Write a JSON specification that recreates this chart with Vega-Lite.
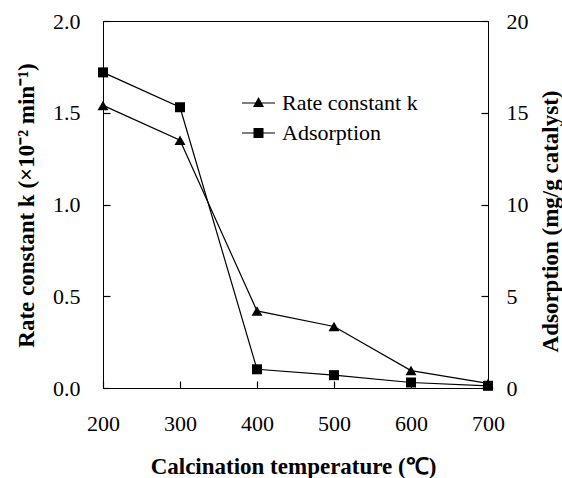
{
  "$schema": "https://vega.github.io/schema/vega-lite/v6.json",
  "width": 385,
  "height": 367,
  "autosize": {"type": "none"},
  "padding": {"left": 103, "top": 21, "right": 74, "bottom": 90},
  "background": "white",
  "config": {
    "view": {"stroke": "black", "strokeWidth": 1}
  },
  "data": {
    "values": [
      {"temperature": 200, "series": "Rate constant k", "value": 1.54},
      {"temperature": 300, "series": "Rate constant k", "value": 1.35},
      {"temperature": 400, "series": "Rate constant k", "value": 0.42},
      {"temperature": 500, "series": "Rate constant k", "value": 0.335},
      {"temperature": 600, "series": "Rate constant k", "value": 0.095},
      {"temperature": 700, "series": "Rate constant k", "value": 0.025},
      {"temperature": 200, "series": "Adsorption", "value": 17.2},
      {"temperature": 300, "series": "Adsorption", "value": 15.3},
      {"temperature": 400, "series": "Adsorption", "value": 1.02},
      {"temperature": 500, "series": "Adsorption", "value": 0.7},
      {"temperature": 600, "series": "Adsorption", "value": 0.3},
      {"temperature": 700, "series": "Adsorption", "value": 0.12}
    ]
  },
  "encoding": {
    "x": {
      "field": "temperature",
      "type": "quantitative",
      "scale": {"domain": [200, 700], "nice": false, "zero": false},
      "axis": {
        "values": [200, 300, 400, 500, 600, 700],
        "title": "Calcination temperature (℃)",
        "grid": false,
        "domain": false,
        "labelFont": "Liberation Serif",
        "labelFontSize": 22,
        "labelColor": "black",
        "titleFont": "Liberation Serif",
        "titleFontSize": 23,
        "titleFontWeight": "bold",
        "titleColor": "black",
        "ticks": true,
        "tickSize": -7,
        "tickWidth": 1.2,
        "tickColor": "black",
        "labelFlush": false,
        "labelPadding": 32,
        "titleBaseline": "middle",
        "titleX": 190,
        "titleY": 78
      }
    }
  },
  "layer": [
    {
      "transform": [{"filter": "datum.series === 'Rate constant k'"}],
      "encoding": {
        "y": {
          "field": "value",
          "type": "quantitative",
          "scale": {"domain": [0, 2], "nice": false},
          "axis": {
            "orient": "left",
            "values": [0, 0.5, 1, 1.5, 2],
            "format": ".1f",
            "title": "Rate constant k (×10⁻² min⁻¹)",
            "grid": false,
            "domain": false,
            "labelFont": "Liberation Serif",
            "labelFontSize": 22,
            "labelColor": "black",
            "titleFont": "Liberation Serif",
            "titleFontSize": 23,
            "titleFontWeight": "bold",
            "titleColor": "black",
            "ticks": true,
            "tickSize": -7,
            "tickWidth": 1.2,
            "tickColor": "black",
            "labelPadding": 30,
            "titleBaseline": "middle",
            "titleAngle": -90,
            "titleX": -77,
            "titleY": 184
          }
        }
      },
      "layer": [
        {"mark": {"type": "line", "color": "black", "strokeWidth": 1.2}},
        {"mark": {"type": "point", "shape": "triangle-up", "filled": true, "color": "black", "opacity": 1, "size": 120}}
      ]
    },
    {
      "transform": [{"filter": "datum.series === 'Adsorption'"}],
      "encoding": {
        "y": {
          "field": "value",
          "type": "quantitative",
          "scale": {"domain": [0, 20], "nice": false},
          "axis": {
            "orient": "right",
            "values": [0, 5, 10, 15, 20],
            "title": "Adsorption (mg/g catalyst)",
            "grid": false,
            "domain": false,
            "labelFont": "Liberation Serif",
            "labelFontSize": 22,
            "labelColor": "black",
            "titleFont": "Liberation Serif",
            "titleFontSize": 23,
            "titleFontWeight": "bold",
            "titleColor": "black",
            "ticks": true,
            "tickSize": -7,
            "tickWidth": 1.2,
            "tickColor": "black",
            "labelPadding": 25,
            "titleBaseline": "middle",
            "titleAngle": -90,
            "titleX": 62,
            "titleY": 200
          }
        }
      },
      "layer": [
        {"mark": {"type": "line", "color": "black", "strokeWidth": 1.2}},
        {"mark": {"type": "point", "shape": "square", "filled": true, "color": "black", "opacity": 1, "size": 100}}
      ]
    },
    {
      "transform": [{"filter": "false"}],
      "mark": {"type": "point", "filled": true, "color": "black", "opacity": 1},
      "encoding": {
        "shape": {
          "field": "series",
          "type": "nominal",
          "scale": {
            "domain": ["Rate constant k", "Adsorption"],
            "range": [
              "M-3.3,-0.12H3.3V0.12H-3.3ZM0,-1.2L1.1,0.8L-1.1,0.8Z",
              "M-3.3,-0.12H3.3V0.12H-3.3ZM-1,-1H1V1H-1Z"
            ]
          },
          "legend": {
            "title": null,
            "orient": "none",
            "legendX": 144.5,
            "legendY": 71,
            "padding": 0,
            "symbolSize": 100,
            "symbolFillColor": "black",
            "symbolOpacity": 1,
            "labelFont": "Liberation Serif",
            "labelFontSize": 22,
            "labelColor": "black",
            "labelOffset": 12.5,
            "rowPadding": 8
          }
        }
      }
    }
  ],
  "resolve": {"scale": {"y": "independent"}}
}
